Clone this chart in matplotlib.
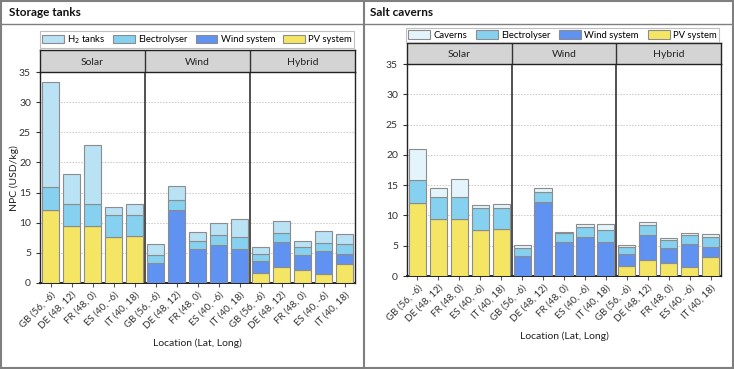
import matplotlib
matplotlib.use("Agg")
import matplotlib.pyplot as plt
from matplotlib.patches import Rectangle
from matplotlib.lines import Line2D

plt.rcParams['font.family'] = ['Lato', 'DejaVu Sans']

# --- data (USD/kg), order inside each block: GB, DE, FR, ES, IT ---
locations = ["GB (56, -6)", "DE (48, 12)", "FR (48, 0)", "ES (40, -6)", "IT (40, 18)"]
scenarios = ["Solar", "Wind", "Hybrid"]

# segment heights, 15 bars = Solar x5, Wind x5, Hybrid x5
pv = [12.05, 9.4, 9.45, 7.6, 7.8,
      0, 0, 0, 0, 0,
      1.66, 2.6, 2.16, 1.5, 3.1]
wind = [0, 0, 0, 0, 0,
        3.35, 12.15, 5.66, 6.37, 5.66,
        2.0, 4.25, 2.5, 3.86, 1.7]
electrolyser = [3.85, 3.7, 3.6, 3.6, 3.45,
                1.3, 1.7, 1.37, 1.65, 1.95,
                1.17, 1.52, 1.32, 1.35, 1.66]
h2_tanks = [17.4, 5.0, 9.9, 1.4, 1.85,
            1.8, 2.2, 1.35, 1.85, 3.05,
            1.1, 1.95, 1.0, 1.9, 1.66]
caverns = [5.0, 1.4, 2.95, 0.45, 0.6,
           0.5, 0.6, 0.27, 0.56, 1.0,
           0.35, 0.5, 0.35, 0.44, 0.46]

c_pv = "#F5E564"
c_wind = "#6092F2"
c_elec = "#86D1EF"
c_tank = "#B9E2F5"
c_cav = "#E4F4FC"

W, H = 734, 369
fig = plt.figure(figsize=(W / 100, H / 100), dpi=100)


def fbox(x0, y0, x1, y1):
    # pixel box (top-left origin) -> figure fraction rect
    return [x0 / W, (H - y1) / H, (x1 - x0) / W, (y1 - y0) / H]


def panel(ax_px, strip_px, leg_px, storage, storage_label, storage_color):
    ax = fig.add_axes(fbox(*ax_px))
    xs = list(range(15))
    bw = 0.82
    kw = dict(width=bw, edgecolor="#8c8c8c", linewidth=0.8, zorder=3)
    b_pv = ax.bar(xs, pv, color=c_pv, label="PV system", **kw)
    b_wind = ax.bar(xs, wind, bottom=pv, color=c_wind, label="Wind system", **kw)
    base = [a + b for a, b in zip(pv, wind)]
    b_elec = ax.bar(xs, electrolyser, bottom=base, color=c_elec, label="Electrolyser", **kw)
    base2 = [a + b for a, b in zip(base, electrolyser)]
    b_st = ax.bar(xs, storage, bottom=base2, color=storage_color, label=storage_label, **kw)

    ax.set_xlim(-0.5, 14.5)
    ax.set_ylim(0, 35)
    ax.set_yticks(range(0, 36, 5))
    ax.set_xticks(xs)
    ax.set_xticklabels(locations * 3, rotation=45, ha="right", rotation_mode="anchor",
                       fontsize=7, color="#333333")
    ax.tick_params(axis="y", labelsize=7.5, length=3, colors="#333333")
    ax.tick_params(axis="x", length=3, pad=2, color="#555555")
    ax.grid(axis="y", linestyle=(0, (1.5, 1.5)), color="#c8c8c8", linewidth=0.7, zorder=0)
    for s in ["left", "bottom", "right"]:
        ax.spines[s].set_color("#222222")
        ax.spines[s].set_linewidth(1.0)
    ax.spines["bottom"].set_linewidth(1.4)
    ax.spines["top"].set_visible(False)
    for xv in (4.5, 9.5):
        ax.axvline(xv, color="#333333", linewidth=1.2, zorder=4)

    sx = fig.add_axes(fbox(*strip_px))
    sx.set_facecolor("#d4d4d4")
    sx.set_xlim(-0.5, 14.5)
    sx.set_ylim(0, 1)
    sx.set_xticks([])
    sx.set_yticks([])
    for s in sx.spines.values():
        s.set_color("#222222")
        s.set_linewidth(1.0)
    for xv in (4.5, 9.5):
        sx.axvline(xv, color="#333333", linewidth=1.0)
    for i, name in enumerate(scenarios):
        sx.text(2 + 5 * i, 0.45, name, ha="center", va="center", fontsize=7.5, color="#222222")

    x0, y0, x1, y1 = leg_px
    leg = fig.legend([b_st, b_elec, b_wind, b_pv],
                     [storage_label, "Electrolyser", "Wind system", "PV system"],
                     ncol=4, mode="expand", loc="lower left",
                     bbox_to_anchor=(x0 / W, (H - y1) / H, (x1 - x0) / W, (y1 - y0) / H),
                     fontsize=6.8, frameon=True, fancybox=False, borderpad=0.25,
                     handlelength=2.3, handleheight=1.0, handletextpad=0.35,
                     columnspacing=0.3, borderaxespad=0)
    leg.get_frame().set_edgecolor("#b0b0b0")
    leg.get_frame().set_linewidth(0.8)
    return ax


panel((40, 72, 355, 283), (40, 50, 355, 72), (40, 33, 354, 48),
      h2_tanks, "H$_2$ tanks", c_tank)
panel((407, 64, 721, 276), (407, 43, 721, 64), (406, 27, 719, 42),
      caverns, "Caverns", c_cav)

# axis titles
fig.text(14 / W, (H - 178) / H, "NPC (USD/kg)", rotation=90, ha="center", va="center",
         fontsize=7.5, color="#222222")
fig.text(197 / W, (H - 343) / H, "Location (Lat, Long)", ha="center", va="center",
         fontsize=7.5, color="#222222")
fig.text(564 / W, (H - 336) / H, "Location (Lat, Long)", ha="center", va="center",
         fontsize=7.5, color="#222222")

# panel titles and frames
fig.text(9 / W, (H - 12) / H, "Storage tanks", ha="left", va="center",
         fontsize=8.5, fontweight="bold", color="#111111")
fig.text(370 / W, (H - 12) / H, "Salt caverns", ha="left", va="center",
         fontsize=8.5, fontweight="bold", color="#111111")

frame_c = "#7f7f7f"
fig.patches.append(Rectangle((1 / W, 1 / H), (W - 2) / W, (H - 2) / H, transform=fig.transFigure,
                             fill=False, edgecolor=frame_c, linewidth=1.5))
fig.add_artist(Line2D([364 / W, 364 / W], [0, 1], color=frame_c, linewidth=1.5))
fig.add_artist(Line2D([0, 1], [(H - 24) / H, (H - 24) / H], color=frame_c, linewidth=1.0))

plt.savefig("out.png", dpi=100)
